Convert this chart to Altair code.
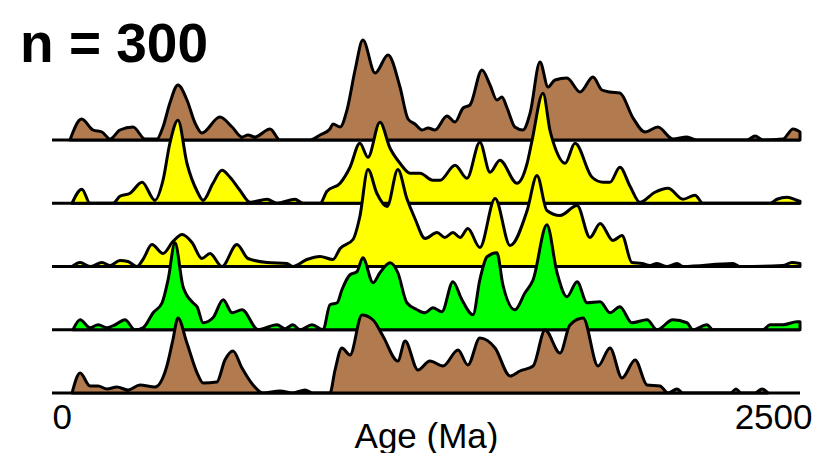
import altair as alt
import pandas as pd

# ---- data: age (Ma) and relative probability density for each sample ----
a1_age = [60, 99, 137, 167, 194, 227, 271, 311, 351, 371, 394, 421, 451, 478, 501,
          561, 602, 635, 655, 678, 729, 762, 862, 896, 929, 939, 963, 986,
          1013, 1039, 1080, 1123, 1163, 1190, 1213, 1237, 1257, 1280, 1320, 1347, 1374, 1397,
          1437, 1464, 1487, 1504, 1521, 1547, 1574, 1598, 1631, 1658, 1681, 1721, 1765, 1808, 1838,
          1865, 1898, 1942, 1982, 2025, 2075, 2122, 2156, 2323, 2350, 2376, 2443, 2477, 2500]
a1_val = [0, 21, 10, 8, 1, 10, 13, 1, 1, 13, 37, 55, 40, 17, 7,
          23, 13, 3, 5, 3, 11, 0, 0, 5, 11, 16, 13, 30,
          70, 100, 67, 85, 53, 21, 16, 10, 12, 10, 24, 18, 32, 35,
          70, 55, 40, 43, 32, 13, 10, 27, 78, 53, 60, 62, 48, 63, 50,
          48, 47, 22, 8, 13, 1, 3, 0, 0, 4, 0, 1, 11, 8]

a2_age = [67, 100, 127, 204, 227, 261, 301, 344, 371, 394, 421, 451, 485, 505, 538, 568, 595, 628, 662, 719,
          752, 812, 839, 896, 919, 963, 996, 1029, 1056, 1096, 1130, 1163, 1197, 1230, 1273, 1297, 1347, 1387, 1430, 1464,
          1497, 1554, 1588, 1604, 1641, 1665, 1681, 1715, 1748, 1805, 1842, 1865, 1898, 1932, 1965, 2015, 2059, 2109, 2149, 2176,
          2400, 2423, 2457, 2490, 2500]
a2_val = [0, 14, 0, 0, 7, 10, 21, 3, 23, 60, 83, 40, 12, 3, 20, 33, 26, 13, 1, 4,
          0, 4, 0, 0, 12, 20, 36, 60, 46, 81, 55, 40, 30, 30, 23, 23, 38, 25, 61, 31,
          43, 20, 40, 62, 110, 72, 56, 40, 60, 26, 21, 21, 36, 17, 1, 11, 15, 4, 8, 0,
          0, 4, 6, 3, 2]

a3_age = [67, 94, 127, 167, 194, 227, 254, 284, 304, 334, 371, 404, 435, 468, 501, 528, 568, 618, 655, 719,
          785, 805, 852, 896, 939, 963, 1006, 1029, 1056, 1086, 1120, 1156, 1186, 1213, 1247, 1287, 1313, 1340, 1364, 1390,
          1430, 1481, 1531, 1588, 1621, 1654, 1698, 1755, 1798, 1832, 1875, 1905, 1938, 1972, 1999, 2022, 2055, 2089, 2109,
          2276, 2299, 2443, 2473, 2500]
a3_val = [0, 4, 0, 4, 1, 6, 5, 0, 7, 22, 13, 25, 32, 24, 8, 13, 0, 22, 8, 4,
          3, 0, 7, 10, 7, 18, 27, 50, 97, 73, 60, 97, 68, 48, 28, 34, 29, 34, 29, 38,
          19, 68, 21, 56, 91, 56, 51, 61, 29, 43, 26, 31, 4, 3, 1, 3, 0, 3, 0,
          3, 0, 1, 4, 3]

a4_age = [70, 94, 127, 154, 184, 211, 244, 277, 304, 338, 368, 388, 411, 438, 471, 485, 505, 538, 572, 602,
          635, 689, 752, 779, 805, 829, 869, 906, 929, 953, 969, 996, 1019, 1039, 1073, 1096, 1130, 1156, 1186, 1220,
          1247, 1273, 1303, 1340, 1370, 1407, 1430, 1454, 1487, 1507, 1547, 1581, 1608, 1654, 1688, 1721, 1755, 1788, 1832, 1865,
          1898, 1938, 1989, 2022, 2075, 2122, 2142, 2189, 2209, 2376, 2400, 2443, 2490, 2500]
a4_val = [0, 10, 2, 5, 2, 5, 10, 0, 2, 17, 27, 50, 87, 43, 27, 23, 7, 12, 30, 17,
          20, 0, 5, 1, 5, 0, 5, 0, 25, 27, 40, 55, 58, 72, 47, 57, 67, 57, 27, 20,
          17, 22, 18, 48, 30, 15, 50, 73, 77, 45, 20, 37, 50, 105, 57, 33, 48, 27, 28, 17,
          23, 7, 10, 0, 10, 7, 0, 5, 0, 0, 5, 5, 8, 8]

a5_age = [67, 94, 127, 154, 184, 217, 254, 294, 344, 384, 404, 421, 451, 485, 505, 551, 578, 605, 635, 672,
          705, 762, 805, 846, 872, 929, 946, 969, 996, 1036, 1073, 1106, 1156, 1180, 1223, 1263, 1307, 1357, 1390, 1430,
          1481, 1531, 1564, 1608, 1648, 1698, 1731, 1775, 1825, 1865, 1905, 1949, 1989, 2032, 2059, 2089, 2109, 2269, 2286, 2303,
          2350, 2373, 2393]
a5_val = [0, 20, 7, 7, 4, 6, 3, 8, 6, 27, 53, 75, 50, 20, 10, 11, 33, 42, 25, 8,
          0, 2, 0, 3, 0, 0, 23, 45, 38, 78, 73, 57, 32, 52, 23, 32, 27, 43, 28, 55,
          45, 17, 22, 27, 63, 40, 68, 75, 27, 45, 15, 33, 8, 7, 0, 4, 0, 0, 4, 0,
          0, 4, 0]

names = ["s1", "s2", "s3", "s4", "s5"]
ages = [a1_age, a2_age, a3_age, a4_age, a5_age]
vals = [a1_val, a2_val, a3_val, a4_val, a5_val]
colors = ["#b27b4f", "#ffff00", "#ffff00", "#00ff00", "#b27b4f"]

STEP = 63.25
N = len(names)
FONT = "Liberation Sans"
SW = 3

x_axis = alt.Axis(
    values=[0, 2500], format="d", title="Age (Ma)", domain=False, ticks=False, tickSize=0, grid=False,
    labelFont=FONT, labelFontSize=35, labelColor="black", labelPadding=7,
    labelAlign={"condition": {"test": "datum.value == 0", "value": "left"}, "value": "right"},
    labelOffset={"condition": {"test": "datum.value == 2500", "value": 12}, "value": 0},
    titleFont=FONT, titleFontSize=35, titleFontWeight="normal", titleColor="black",
    titleBaseline="alphabetic", titleY=54,
)
x_enc = alt.X("age:Q", scale=alt.Scale(domain=[0, 2500], nice=False, zero=False), axis=x_axis)
y_scale = alt.Scale(domain=[0, 363], nice=False, zero=False)

# baselines
base_df = pd.DataFrame({
    "age": [0, 2500] * N,
    "row": [i for i in range(N) for _ in range(2)],
})
baselines = alt.Chart(base_df).transform_calculate(
    base=f"({N - 1} - datum.row) * {STEP}"
).mark_line(color="black", strokeWidth=SW).encode(
    x=x_enc,
    y=alt.Y("base:Q", scale=y_scale, axis=None),
    detail="row:N",
)

layers = [baselines]
for i in range(N):
    df = pd.DataFrame({"age": ages[i], "density": vals[i]})
    off = (N - 1 - i) * STEP
    layer = alt.Chart(df).transform_calculate(
        base=f"{off}", top=f"datum.density + {off}"
    ).mark_area(
        interpolate="monotone", fill=colors[i], stroke="black", strokeWidth=SW,
        strokeJoin="round", fillOpacity=1,
    ).encode(
        x=x_enc,
        y=alt.Y("top:Q", scale=y_scale, axis=None),
        y2="base:Q",
    )
    layers.append(layer)

chart = alt.layer(*layers).properties(
    width=748, height=363,
    autosize=alt.AutoSizeParams(type="none"),
    padding={"left": 44, "top": 22, "right": 13, "bottom": 60},
    title=alt.TitleParams(
        "n = 300", anchor="start", fontSize=55, fontWeight="bold", font=FONT,
        color="black", dx=-26, offset=-87, baseline="alphabetic",
    ),
).configure_view(stroke=None)

chart.save("out.html", embed_options={"renderer": "svg", "actions": False})
